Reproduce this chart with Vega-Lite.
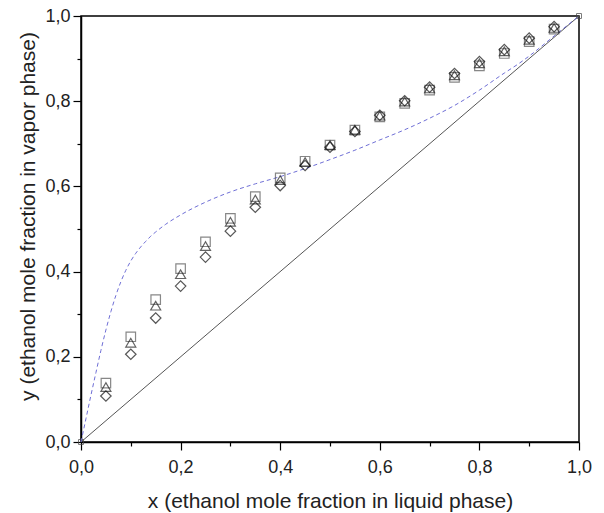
{
  "$schema": "https://vega.github.io/schema/vega-lite/v6.json",
  "width": 498,
  "height": 426,
  "autosize": {"type": "none"},
  "padding": {"left": 81, "top": 16, "right": 25, "bottom": 71},
  "background": "white",
  "config": {
    "font": "Liberation Sans",
    "view": {"stroke": "black", "strokeWidth": 1.5},
    "axis": {
      "grid": false,
      "domainColor": "black",
      "domainWidth": 1.5,
      "tickColor": "black",
      "tickWidth": 1.2,
      "labelFont": "Liberation Sans",
      "labelFontSize": 18,
      "labelColor": "#222",
      "titleFont": "Liberation Sans",
      "titleFontSize": 21,
      "titleFontWeight": "normal",
      "titleColor": "#222",
      "labelOverlap": false,
      "labelBound": false,
      "labelFlush": false
    }
  },
  "datasets": {
    "pts": [
      {"x": 0.05, "y": 0.138, "s": "A"}, {"x": 0.05, "y": 0.129, "s": "B"}, {"x": 0.05, "y": 0.108, "s": "C"},
      {"x": 0.10, "y": 0.247, "s": "A"}, {"x": 0.10, "y": 0.233, "s": "B"}, {"x": 0.10, "y": 0.206, "s": "C"},
      {"x": 0.15, "y": 0.334, "s": "A"}, {"x": 0.15, "y": 0.320, "s": "B"}, {"x": 0.15, "y": 0.291, "s": "C"},
      {"x": 0.20, "y": 0.407, "s": "A"}, {"x": 0.20, "y": 0.394, "s": "B"}, {"x": 0.20, "y": 0.366, "s": "C"},
      {"x": 0.25, "y": 0.470, "s": "A"}, {"x": 0.25, "y": 0.460, "s": "B"}, {"x": 0.25, "y": 0.434, "s": "C"},
      {"x": 0.30, "y": 0.525, "s": "A"}, {"x": 0.30, "y": 0.517, "s": "B"}, {"x": 0.30, "y": 0.495, "s": "C"},
      {"x": 0.35, "y": 0.576, "s": "A"}, {"x": 0.35, "y": 0.569, "s": "B"}, {"x": 0.35, "y": 0.551, "s": "C"},
      {"x": 0.40, "y": 0.620, "s": "A"}, {"x": 0.40, "y": 0.615, "s": "B"}, {"x": 0.40, "y": 0.602, "s": "C"},
      {"x": 0.45, "y": 0.659, "s": "A"}, {"x": 0.45, "y": 0.657, "s": "B"}, {"x": 0.45, "y": 0.649, "s": "C"},
      {"x": 0.50, "y": 0.697, "s": "A"}, {"x": 0.50, "y": 0.697, "s": "B"}, {"x": 0.50, "y": 0.692, "s": "C"},
      {"x": 0.55, "y": 0.732, "s": "A"}, {"x": 0.55, "y": 0.733, "s": "B"}, {"x": 0.55, "y": 0.729, "s": "C"},
      {"x": 0.60, "y": 0.763, "s": "A"}, {"x": 0.60, "y": 0.766, "s": "B"}, {"x": 0.60, "y": 0.767, "s": "C"},
      {"x": 0.65, "y": 0.795, "s": "A"}, {"x": 0.65, "y": 0.799, "s": "B"}, {"x": 0.65, "y": 0.801, "s": "C"},
      {"x": 0.70, "y": 0.826, "s": "A"}, {"x": 0.70, "y": 0.830, "s": "B"}, {"x": 0.70, "y": 0.833, "s": "C"},
      {"x": 0.75, "y": 0.856, "s": "A"}, {"x": 0.75, "y": 0.861, "s": "B"}, {"x": 0.75, "y": 0.865, "s": "C"},
      {"x": 0.80, "y": 0.883, "s": "A"}, {"x": 0.80, "y": 0.889, "s": "B"}, {"x": 0.80, "y": 0.893, "s": "C"},
      {"x": 0.85, "y": 0.912, "s": "A"}, {"x": 0.85, "y": 0.917, "s": "B"}, {"x": 0.85, "y": 0.921, "s": "C"},
      {"x": 0.90, "y": 0.940, "s": "A"}, {"x": 0.90, "y": 0.944, "s": "B"}, {"x": 0.90, "y": 0.948, "s": "C"},
      {"x": 0.95, "y": 0.969, "s": "A"}, {"x": 0.95, "y": 0.972, "s": "B"}, {"x": 0.95, "y": 0.975, "s": "C"}
    ],
    "curve": [
      {"x": 0, "y": 0}, {"x": 0.01, "y": 0.055}, {"x": 0.02, "y": 0.11}, {"x": 0.03, "y": 0.163},
      {"x": 0.04, "y": 0.215}, {"x": 0.05, "y": 0.263}, {"x": 0.06, "y": 0.306}, {"x": 0.07, "y": 0.344},
      {"x": 0.08, "y": 0.376}, {"x": 0.09, "y": 0.403}, {"x": 0.10, "y": 0.425}, {"x": 0.11, "y": 0.443},
      {"x": 0.12, "y": 0.458}, {"x": 0.13, "y": 0.471}, {"x": 0.14, "y": 0.483}, {"x": 0.15, "y": 0.493},
      {"x": 0.17, "y": 0.511}, {"x": 0.20, "y": 0.533}, {"x": 0.25, "y": 0.563}, {"x": 0.30, "y": 0.587},
      {"x": 0.35, "y": 0.606}, {"x": 0.40, "y": 0.623},
      {"x": 0.45, "y": 0.642}, {"x": 0.50, "y": 0.663}, {"x": 0.55, "y": 0.685}, {"x": 0.60, "y": 0.709},
      {"x": 0.65, "y": 0.733}, {"x": 0.70, "y": 0.76}, {"x": 0.75, "y": 0.79}, {"x": 0.80, "y": 0.826},
      {"x": 0.85, "y": 0.866}, {"x": 0.88, "y": 0.889}, {"x": 0.90, "y": 0.906}, {"x": 0.95, "y": 0.953},
      {"x": 1.0, "y": 1.0}
    ],
    "diag": [{"x": 0, "y": 0}, {"x": 1, "y": 1}]
  },
  "layer": [
    {
      "data": {"name": "diag"},
      "mark": {"type": "line", "color": "#555", "strokeWidth": 1, "clip": true},
      "encoding": {
        "x": {"field": "x", "type": "quantitative", "scale": {"domain": [0, 1], "nice": false},
          "axis": {
            "title": "x (ethanol mole fraction in liquid phase)",
            "values": [0, 0.1, 0.2, 0.3, 0.4, 0.5, 0.6, 0.7, 0.8, 0.9, 1.0],
            "labelExpr": "round(datum.value*10)%2===1 ? '' : replace(format(datum.value, '.1f'), '.', ',')",
            "tickSize": {"condition": {"test": "round(datum.value*10)%2===1", "value": 4}, "value": 8},
            "labelBaseline": "alphabetic",
            "labelPadding": 22,
            "titleBaseline": "alphabetic",
            "titleY": 65
          }},
        "y": {"field": "y", "type": "quantitative", "scale": {"domain": [0, 1], "nice": false},
          "axis": {
            "title": "y (ethanol mole fraction in vapor phase)",
            "values": [0, 0.1, 0.2, 0.3, 0.4, 0.5, 0.6, 0.7, 0.8, 0.9, 1.0],
            "labelExpr": "round(datum.value*10)%2===1 ? '' : replace(format(datum.value, '.1f'), '.', ',')",
            "tickSize": {"condition": {"test": "round(datum.value*10)%2===1", "value": 4}, "value": 8},
            "labelPadding": 3,
            "titleBaseline": "alphabetic",
            "titleX": -47,
            "titleY": 200
          }}
      }
    },
    {
      "data": {"name": "diag"},
      "mark": {"type": "point", "shape": "square", "filled": false, "color": "#444", "size": 25, "strokeWidth": 1},
      "encoding": {
        "x": {"field": "x", "type": "quantitative"},
        "y": {"field": "y", "type": "quantitative"}
      }
    },
    {
      "data": {"name": "curve"},
      "mark": {"type": "line", "color": "#6f6fd6", "strokeWidth": 1, "strokeDash": [4, 3], "interpolate": "monotone"},
      "encoding": {
        "x": {"field": "x", "type": "quantitative"},
        "y": {"field": "y", "type": "quantitative"}
      }
    },
    {
      "data": {"name": "pts"},
      "mark": {"type": "point", "filled": false, "strokeWidth": 1.2},
      "encoding": {
        "x": {"field": "x", "type": "quantitative"},
        "y": {"field": "y", "type": "quantitative"},
        "shape": {"field": "s", "type": "nominal", "legend": null,
          "scale": {"domain": ["A", "B", "C"], "range": ["square", "triangle-up", "diamond"]}},
        "color": {"field": "s", "type": "nominal", "legend": null,
          "scale": {"domain": ["A", "B", "C"], "range": ["#555", "#222", "#111"]}},
        "size": {"field": "s", "type": "nominal", "legend": null,
          "scale": {"domain": ["A", "B", "C"], "range": [90, 110, 160]}}
      }
    }
  ]
}
